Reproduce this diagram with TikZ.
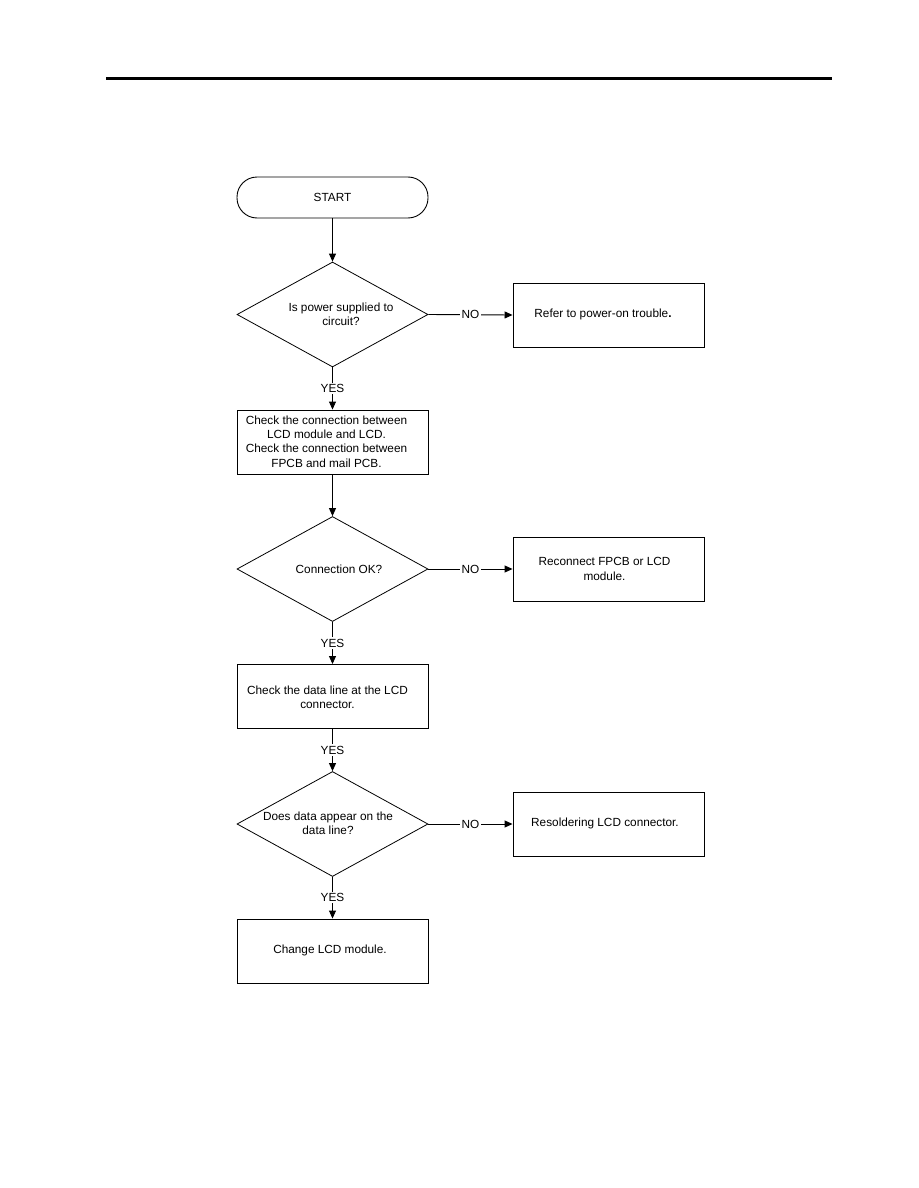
\documentclass[tikz,border=0pt]{standalone}
\usepackage{fontspec}
\setmainfont{Liberation Sans}
\usetikzlibrary{shapes.geometric,arrows.meta}
\begin{document}
\begin{tikzpicture}[x=1pt,y=-1pt,
  every node/.style={font=\fontsize{11.8}{14.3}\selectfont},
  box/.style={draw,line width=0.9pt,minimum width=191pt,minimum height=64pt,inner sep=0pt,align=center},
  startbox/.style={draw,line width=0.9pt,minimum width=191pt,minimum height=41pt,rounded corners=20pt,inner sep=0pt},
  dia/.style={draw,diamond,line width=0.8pt,minimum width=191pt,minimum height=105pt,inner sep=0pt},
  txt/.style={align=center,inner sep=0pt},
  lab/.style={fill=white,inner sep=1.5pt},
  arr/.style={line width=0.9pt,-{Triangle[length=8pt,width=7pt]}},
  ln/.style={line width=0.9pt}
]
\useasboundingbox (0,0) rectangle (918,1188);
\fill (106,77.5) rectangle (832,80.5);

\node[startbox] (start) at (332.5,197.5) {START};

\node[dia] (d1) at (332.5,314.5) {};
\node[txt] (d1t) at (341,314.5) {Is power supplied to\\circuit?};
\node[box] (r1) at (608.5,315) {};
\node[txt] (r1t) at (603,314.5) {Refer to power-on trouble\textbf{.}};

\node[box] (b2) at (332.5,442) {};
\node[txt] (b2t) at (326.5,441.5) {Check the connection between\\LCD module and LCD.\\Check the connection between\\FPCB and mail PCB.};

\node[dia] (d2) at (332.5,569) {};
\node[txt] (d2t) at (339,569) {Connection OK?};
\node[box] (r2) at (608.5,569) {};
\node[txt] (r2t) at (604.5,569) {Reconnect FPCB or LCD\\module.};

\node[box] (b3) at (332.5,696.5) {};
\node[txt] (b3t) at (327.5,697) {Check the data line at the LCD\\connector.};

\node[dia] (d3) at (332.5,824) {};
\node[txt] (d3t) at (328,823.5) {Does data appear on the\\data line?};
\node[box] (r3) at (608.5,824) {};
\node[txt] (r3t) at (605,823.5) {Resoldering LCD connector.};

\node[box] (b4) at (332.5,951) {};
\node[txt] (b4t) at (330,950.5) {Change LCD module.};

\draw[arr] (start) -- (d1);
\draw[arr] (d1.east) -- node[lab]{NO} (r1.west);
\draw[arr] (d1.south) -- node[lab]{YES} (b2.north);
\draw[arr] (b2) -- (d2);
\draw[arr] (d2.east) -- node[lab]{NO} (r2.west);
\draw[arr] (d2.south) -- node[lab]{YES} (b3.north);
\draw[arr] (b3.south) -- node[lab]{YES} (d3.north);
\draw[arr] (d3.east) -- node[lab]{NO} (r3.west);
\draw[arr] (d3.south) -- node[lab]{YES} (b4.north);
\end{tikzpicture}
\end{document}
